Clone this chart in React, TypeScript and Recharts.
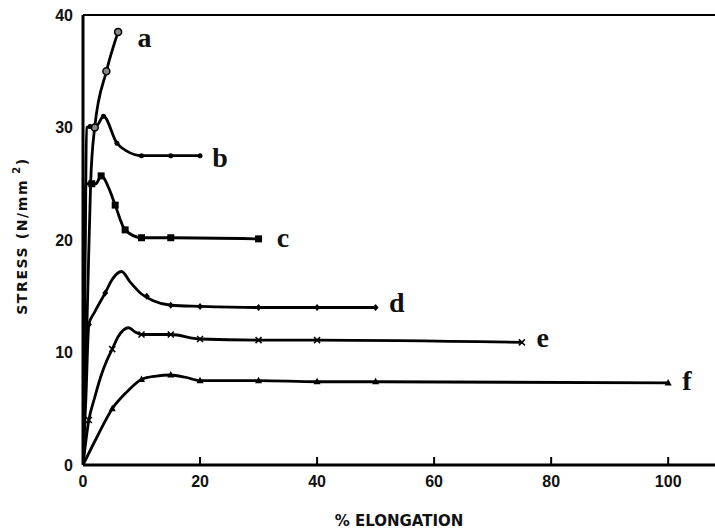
import React from 'react'
import {
  ComposedChart,
  Line,
  Scatter,
  XAxis,
  YAxis,
  ReferenceLine,
} from 'recharts'

// stress-strain curves (x = % elongation, y = N/mm2)
const curveA = [
  { x: 0, y: 0 }, { x: 0.8, y: 15 }, { x: 1.3, y: 25 }, { x: 2, y: 30 },
  { x: 4, y: 35 }, { x: 6, y: 38.5 },
]
const curveB = [
  { x: 0, y: 0 }, { x: 0.4, y: 20 }, { x: 0.6, y: 30 }, { x: 2.4, y: 30.2 },
  { x: 3.5, y: 31 }, { x: 5.8, y: 28.6 }, { x: 7.5, y: 27.9 }, { x: 10, y: 27.5 },
  { x: 15, y: 27.5 }, { x: 20, y: 27.5 },
]
const curveC = [
  { x: 0, y: 0 }, { x: 0.3, y: 20 }, { x: 0.5, y: 25 }, { x: 2.2, y: 25 },
  { x: 3.1, y: 25.7 }, { x: 4.5, y: 24.5 }, { x: 5.5, y: 23.1 }, { x: 7.2, y: 20.9 },
  { x: 10, y: 20.2 }, { x: 15, y: 20.2 }, { x: 30, y: 20.1 },
]
const curveD = [
  { x: 0, y: 0 }, { x: 0.5, y: 6 }, { x: 1, y: 12.5 }, { x: 2, y: 13.6 },
  { x: 3.8, y: 15.3 }, { x: 5, y: 16.5 }, { x: 6.6, y: 17.2 }, { x: 8, y: 16.3 },
  { x: 10, y: 15.2 }, { x: 12, y: 14.6 }, { x: 15, y: 14.2 }, { x: 20, y: 14.1 },
  { x: 30, y: 14 }, { x: 40, y: 14 }, { x: 50, y: 14 },
]
const curveE = [
  { x: 0, y: 0 }, { x: 1, y: 4 }, { x: 2, y: 6 }, { x: 3, y: 7.8 },
  { x: 4, y: 9.2 }, { x: 5, y: 10.3 }, { x: 6, y: 11.4 }, { x: 7.8, y: 12.2 },
  { x: 9, y: 11.8 }, { x: 10, y: 11.6 }, { x: 15, y: 11.6 }, { x: 20, y: 11.2 },
  { x: 30, y: 11.1 }, { x: 40, y: 11.1 }, { x: 75, y: 10.9 },
]
const curveF = [
  { x: 0, y: 0 }, { x: 2.5, y: 2.6 }, { x: 5, y: 5 }, { x: 7.5, y: 6.5 },
  { x: 10, y: 7.6 }, { x: 12.5, y: 7.9 }, { x: 15, y: 8 }, { x: 17.5, y: 7.8 },
  { x: 20, y: 7.5 }, { x: 30, y: 7.5 }, { x: 40, y: 7.4 }, { x: 50, y: 7.4 },
  { x: 100, y: 7.3 },
]

// plotted symbols on each curve
const marksA = [{ x: 2, y: 30 }, { x: 4, y: 35 }, { x: 6, y: 38.5 }]
const marksB = [
  { x: 1.2, y: 30.1 }, { x: 3.5, y: 31 }, { x: 5.8, y: 28.6 }, { x: 10, y: 27.5 },
  { x: 15, y: 27.5 }, { x: 20, y: 27.5 },
]
const marksC = [
  { x: 1.5, y: 25 }, { x: 3.1, y: 25.7 }, { x: 5.5, y: 23.1 },
  { x: 7.2, y: 20.9 }, { x: 10, y: 20.2 }, { x: 15, y: 20.2 }, { x: 30, y: 20.1 },
]
const marksD = [
  { x: 1, y: 12.5 }, { x: 3.8, y: 15.3 }, { x: 10.9, y: 15 }, { x: 15, y: 14.2 },
  { x: 20, y: 14.1 }, { x: 30, y: 14 }, { x: 40, y: 14 }, { x: 50, y: 14 },
]
const marksE = [
  { x: 1, y: 4 }, { x: 5, y: 10.3 }, { x: 10, y: 11.6 }, { x: 15, y: 11.6 },
  { x: 20, y: 11.2 }, { x: 30, y: 11.1 }, { x: 40, y: 11.1 }, { x: 75, y: 10.9 },
]
const marksF = [
  { x: 5, y: 5 }, { x: 10, y: 7.6 }, { x: 15, y: 8 }, { x: 20, y: 7.5 },
  { x: 30, y: 7.5 }, { x: 40, y: 7.4 }, { x: 50, y: 7.4 }, { x: 100, y: 7.3 },
]

const curveLabels = [
  { x: 9.3, y: 37.2, name: 'a' },
  { x: 22.1, y: 26.5, name: 'b' },
  { x: 33.1, y: 19.4, name: 'c' },
  { x: 52.3, y: 13.6, name: 'd' },
  { x: 77.5, y: 10.5, name: 'e' },
  { x: 102.4, y: 6.7, name: 'f' },
]

const xTicks = [0, 20, 40, 60, 80, 100]
const yTicks = [0, 10, 20, 30, 40]

const tickFont = { fill: '#111', fontSize: 16, fontWeight: 700, fontFamily: 'Liberation Sans, Arial, sans-serif' }

const circleMark = (p: any) => <circle cx={p.cx} cy={p.cy} r={3.5} fill="#888" stroke="#000" strokeWidth={1.5} />
const dotMark = (p: any) => <circle cx={p.cx} cy={p.cy} r={2.5} fill="#000" />
const squareMark = (p: any) => <rect x={p.cx - 3.5} y={p.cy - 3.5} width={7} height={7} fill="#000" />
const diamondMark = (p: any) => (
  <path d={`M${p.cx},${p.cy - 3.5}L${p.cx + 3},${p.cy}L${p.cx},${p.cy + 3.5}L${p.cx - 3},${p.cy}Z`} fill="#000" />
)
const crossMark = (p: any) => (
  <path d={`M${p.cx - 3},${p.cy - 3}L${p.cx + 3},${p.cy + 3}M${p.cx + 3},${p.cy - 3}L${p.cx - 3},${p.cy + 3}`} stroke="#000" strokeWidth={1.5} />
)
const triMark = (p: any) => (
  <path d={`M${p.cx},${p.cy - 4}L${p.cx + 3.5},${p.cy + 2.5}L${p.cx - 3.5},${p.cy + 2.5}Z`} fill="#000" />
)
const letterMark = (p: any) => (
  <text x={p.cx} y={p.cy} fontSize={28} fontWeight={700} fontFamily="Liberation Serif, Times New Roman, serif" fill="#111">
    {p.payload.name}
  </text>
)

const YLabel = (props: any) => {
  const { viewBox } = props
  const cx = viewBox.x + 22
  const cy = viewBox.y + viewBox.height / 2 - 4
  return (
    <text
      x={cx}
      y={cy}
      transform={`rotate(-90, ${cx}, ${cy})`}
      textAnchor="middle"
      dominantBaseline="central"
      fontSize={14}
      fontWeight={700}
      letterSpacing={1.6}
      fontFamily="DejaVu Sans, sans-serif"
      fill="#111"
    >
      STRESS (N/mm<tspan dy={-6} fontSize={10}> 2</tspan><tspan dy={6}>)</tspan>
    </text>
  )
}

const series = [
  { data: curveA, marks: marksA, shape: circleMark },
  { data: curveB, marks: marksB, shape: dotMark },
  { data: curveC, marks: marksC, shape: squareMark },
  { data: curveD, marks: marksD, shape: diamondMark },
  { data: curveE, marks: marksE, shape: crossMark },
  { data: curveF, marks: marksF, shape: triMark },
]

export default function App() {
  return (
    <div style={{ position: 'absolute', left: 0, top: 0, background: '#fff' }}>
      <ComposedChart width={715} height={532} margin={{ top: 15, right: 0, bottom: 0, left: 0 }}>
        <XAxis
          type="number"
          dataKey="x"
          domain={[0, 108]}
          ticks={xTicks}
          allowDataOverflow
          axisLine={{ stroke: '#000', strokeWidth: 3 }}
          tickLine={{ stroke: '#000', strokeWidth: 2 }}
          tickSize={-8}
          tickMargin={19}
          tick={tickFont}
          height={67}
          label={{
            value: '% ELONGATION',
            position: 'insideBottom',
            offset: 6,
            fill: '#111',
            fontSize: 15,
            fontWeight: 700,
            fontFamily: 'DejaVu Sans, sans-serif',
          }}
        />
        <YAxis
          type="number"
          dataKey="y"
          domain={[0, 40]}
          ticks={yTicks}
          axisLine={{ stroke: '#000', strokeWidth: 3 }}
          tickLine={false}
          tickMargin={4}
          tick={tickFont}
          width={83}
          label={<YLabel />}
        />
        <ReferenceLine y={40} stroke="#000" strokeWidth={2} />
        {series.map((s, i) => (
          <Line
            key={'l' + i}
            data={s.data}
            dataKey="y"
            type="monotone"
            stroke="#000"
            strokeWidth={2.8}
            dot={false}
            isAnimationActive={false}
          />
        ))}
        {series.map((s, i) => (
          <Scatter key={'m' + i} data={s.marks} shape={s.shape} isAnimationActive={false} />
        ))}
        <Scatter data={curveLabels} shape={letterMark} isAnimationActive={false} />
      </ComposedChart>
    </div>
  )
}
